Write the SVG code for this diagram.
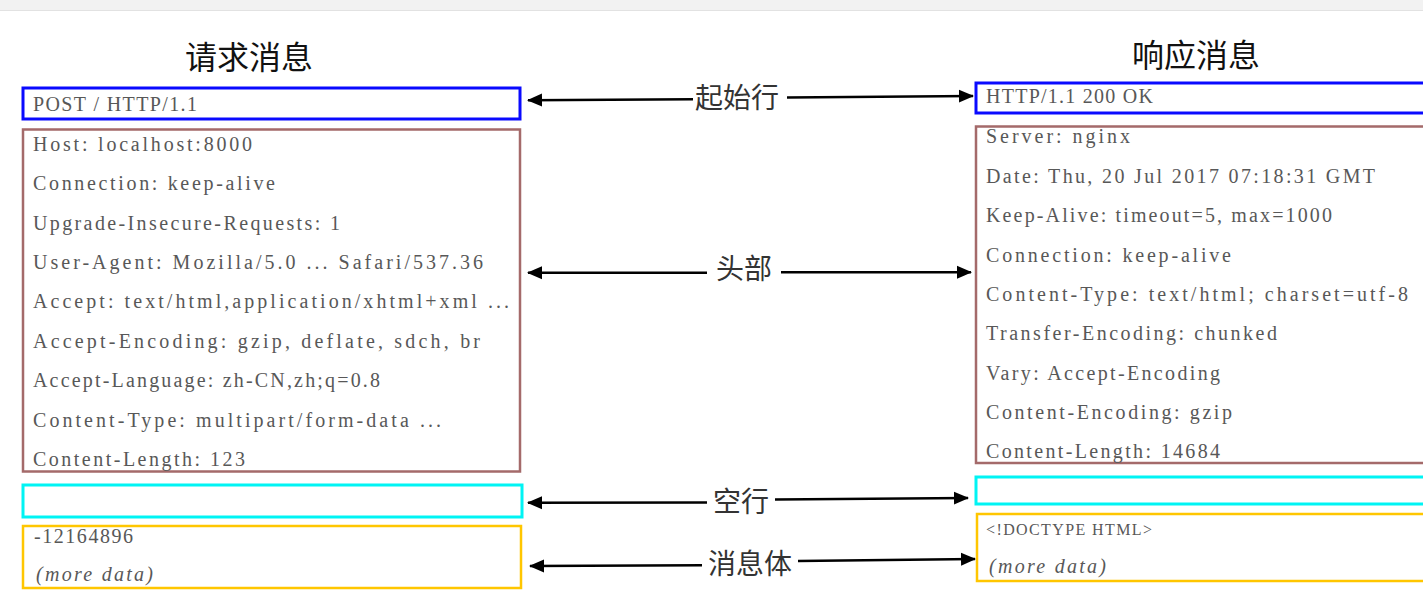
<svg xmlns="http://www.w3.org/2000/svg" width="1423" height="592" viewBox="0 0 1423 592">
<style>
.mono{font-family:"Liberation Serif","Times New Roman",serif;font-size:20px;fill:#585858}
.it{font-style:italic}
.sm{font-size:16px}
.title{font-family:"Noto Sans CJK SC",sans-serif;font-size:32px;fill:#111;text-anchor:middle}
.lbl{font-family:"Noto Sans CJK SC",sans-serif;font-size:28px;fill:#333;text-anchor:middle}
.box{fill:#fff}
.blue{stroke:#0a0aff;stroke-width:3}
.brown{stroke:#a46a6a;stroke-width:2.5}
.cyan{stroke:#00f4f4;stroke-width:3}
.yellow{stroke:#ffc600;stroke-width:2.5}
.conn line{stroke:#000;stroke-width:2.5;marker-end:url(#ah)}
</style>
<defs>
<marker id="ah" markerUnits="userSpaceOnUse" markerWidth="15" markerHeight="14" viewBox="0 0 15 14" refX="14" refY="7" orient="auto">
<path d="M0,0.5 L15,7 L0,13.5 z" fill="#000"/>
</marker>
</defs>
<rect x="0" y="0" width="1423" height="10" fill="#f2f2f2"/>
<line x1="0" y1="10.5" x2="1423" y2="10.5" stroke="#e2e2e2" stroke-width="1"/>

<g id="titles">
<text class="title" x="249" y="69">请求消息</text>
<text class="title" x="1196" y="67">响应消息</text>
</g>

<g id="req-start">
<rect class="box blue" x="23" y="88" width="497" height="31"/>
<text class="mono" x="33" y="111" textLength="164" lengthAdjust="spacing">POST / HTTP/1.1</text>
</g>
<g id="req-headers">
<rect class="box brown" x="23" y="129.5" width="497" height="342"/>
<text class="mono" x="33" y="150.7" textLength="219" lengthAdjust="spacing">Host: localhost:8000</text>
<text class="mono" x="33" y="190.1" textLength="242" lengthAdjust="spacing">Connection: keep-alive</text>
<text class="mono" x="33" y="229.5" textLength="307" lengthAdjust="spacing">Upgrade-Insecure-Requests: 1</text>
<text class="mono" x="33" y="268.9" textLength="450" lengthAdjust="spacing">User-Agent: Mozilla/5.0 ... Safari/537.36</text>
<text class="mono" x="33" y="308.3" textLength="476" lengthAdjust="spacing">Accept: text/html,application/xhtml+xml ...</text>
<text class="mono" x="33" y="347.7" textLength="447" lengthAdjust="spacing">Accept-Encoding: gzip, deflate, sdch, br</text>
<text class="mono" x="33" y="387.1" textLength="347" lengthAdjust="spacing">Accept-Language: zh-CN,zh;q=0.8</text>
<text class="mono" x="33" y="426.5" textLength="408" lengthAdjust="spacing">Content-Type: multipart/form-data ...</text>
<text class="mono" x="33" y="465.9" textLength="212" lengthAdjust="spacing">Content-Length: 123</text>
</g>
<g id="req-blank">
<rect class="box cyan" x="23" y="485" width="499" height="32"/>
</g>
<g id="req-body">
<rect class="box yellow" x="23" y="526" width="498" height="62"/>
<text class="mono" x="34" y="543" textLength="99" lengthAdjust="spacing">-12164896</text>
<text class="mono it" x="36" y="581" textLength="117" lengthAdjust="spacing">(more data)</text>
</g>

<g id="res-start">
<rect class="box blue" x="976" y="83" width="460" height="30"/>
<text class="mono" x="986" y="103" textLength="167" lengthAdjust="spacing">HTTP/1.1 200 OK</text>
</g>
<g id="res-headers">
<rect class="box brown" x="976" y="126.5" width="460" height="336.5"/>
<text class="mono" x="986" y="142.5" textLength="144" lengthAdjust="spacing">Server: nginx</text>
<text class="mono" x="986" y="183" textLength="389" lengthAdjust="spacing">Date: Thu, 20 Jul 2017 07:18:31 GMT</text>
<text class="mono" x="986" y="222.3" textLength="346" lengthAdjust="spacing">Keep-Alive: timeout=5, max=1000</text>
<text class="mono" x="986" y="261.6" textLength="245" lengthAdjust="spacing">Connection: keep-alive</text>
<text class="mono" x="986" y="300.9" textLength="422" lengthAdjust="spacing">Content-Type: text/html; charset=utf-8</text>
<text class="mono" x="986" y="340.2" textLength="291" lengthAdjust="spacing">Transfer-Encoding: chunked</text>
<text class="mono" x="986" y="379.5" textLength="234" lengthAdjust="spacing">Vary: Accept-Encoding</text>
<text class="mono" x="986" y="418.8" textLength="246" lengthAdjust="spacing">Content-Encoding: gzip</text>
<text class="mono" x="986" y="457.5" textLength="234" lengthAdjust="spacing">Content-Length: 14684</text>
</g>
<g id="res-blank">
<rect class="box cyan" x="976" y="477" width="460" height="27"/>
</g>
<g id="res-body">
<rect class="box yellow" x="977" y="514" width="460" height="67"/>
<text class="mono sm" x="986" y="535" textLength="166" lengthAdjust="spacing">&lt;!DOCTYPE HTML&gt;</text>
<text class="mono it" x="989" y="573" textLength="117" lengthAdjust="spacing">(more data)</text>
</g>

<g id="connectors" class="conn">
<line x1="693" y1="99.2" x2="528" y2="100.2"/>
<line x1="787" y1="97.5" x2="973" y2="96"/>
<line x1="707" y1="272.7" x2="528" y2="272.7"/>
<line x1="781" y1="272.3" x2="971" y2="272.3"/>
<line x1="707" y1="502.5" x2="528" y2="502.7"/>
<line x1="775" y1="499.5" x2="968" y2="498"/>
<line x1="702" y1="565.3" x2="530" y2="566"/>
<line x1="798" y1="561" x2="975" y2="559"/>
</g>

<g id="labels">
<text class="lbl" x="737" y="108">起始行</text>
<text class="lbl" x="744" y="279">头部</text>
<text class="lbl" x="741" y="512">空行</text>
<text class="lbl" x="750" y="574">消息体</text>
</g>
</svg>
